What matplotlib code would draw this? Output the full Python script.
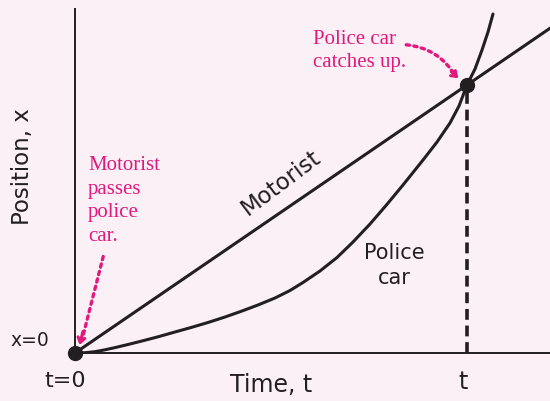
import matplotlib
matplotlib.use("Agg")
import matplotlib.pyplot as plt

# ---- data (t normalised so that catch-up happens at t=1, x=1) ----
motorist_t = [0.0, 1.212]
motorist_x = [0.0, 1.212]

police_t = [0.0, 0.0255, 0.0510, 0.0765, 0.1020, 0.1352, 0.1709, 0.2117,
            0.2551, 0.2934, 0.3393, 0.3827, 0.4260, 0.4668, 0.5102, 0.5485,
            0.5816, 0.6250, 0.6684, 0.7092, 0.7526, 0.7934, 0.8367, 0.8878,
            0.9235, 0.9566, 0.9796, 1.0, 1.0204, 1.0383, 1.0536, 1.0663]
police_x = [0.0, 0.0011, 0.0049, 0.0119, 0.0201, 0.0317, 0.0448, 0.0604,
            0.0784, 0.0940, 0.1138, 0.1343, 0.1567, 0.1791, 0.2052, 0.2332,
            0.2631, 0.3060, 0.3563, 0.4142, 0.4813, 0.5504, 0.6269, 0.7201,
            0.7873, 0.8582, 0.9216, 1.0, 1.0597, 1.1306, 1.1978, 1.2649]

catch_t, catch_x = 1.0, 1.0

bg = "#fbf0f6"
ink = "#231f20"
pink = "#e0197d"

fig = plt.figure(figsize=(5.5, 4.02), dpi=100, facecolor=bg)
W, H = 550, 402
ox, oy = 75, 354
ax = fig.add_axes([ox / W, (H - oy) / H, (W - ox) / W, oy / H])
ax.set_facecolor(bg)
ax.set_xlim(0, (W - ox) / 392)
ax.set_ylim(0, oy / 268)
for s in ["top", "right"]:
    ax.spines[s].set_visible(False)
ax.spines["left"].set_bounds(0, (oy - 10) / 268)
for s in ["left", "bottom"]:
    ax.spines[s].set_color(ink)
    ax.spines[s].set_linewidth(1.4)
ax.set_xticks([])
ax.set_yticks([])

ax.plot(motorist_t, motorist_x, color=ink, lw=2.2, solid_capstyle="round")
ax.plot(police_t, police_x, color=ink, lw=2.2, solid_capstyle="round",
        solid_joinstyle="round")
ax.plot([catch_t, catch_t], [0, catch_x], color=ink, lw=2.6,
        linestyle=(0, (3, 1.6)))
ax.plot([0, catch_t], [0, catch_x], "o", color=ink, ms=10, clip_on=False, zorder=5)

hand = dict(family="DejaVu Sans", color=ink)
ax.text(-0.115, 0.05, "x=0", fontsize=13.5, ha="center", va="center", **hand)
ax.text(-0.025, -0.10, "t=0", fontsize=16, ha="center", va="center",
        clip_on=False, **hand)
ax.text(0.5, -0.115, "Time, t", fontsize=17, ha="center", va="center", **hand)
ax.text(0.99, -0.105, "t", fontsize=17, ha="center", va="center", **hand)
ax.text(-0.135, 0.70, "Position, x", fontsize=16.5, ha="center", va="center",
        rotation=90, **hand)
ax.text(0.525, 0.64, "Motorist", fontsize=16.5, ha="center", va="center",
        rotation=37, **hand)
ax.text(0.815, 0.33, "Police\ncar", fontsize=15, ha="center", va="center",
        linespacing=1.3, **hand)

serif = dict(family="Liberation Serif", color=pink)
ax.text(0.033, 0.74, "Motorist\npasses\npolice\ncar.", fontsize=15,
        ha="left", va="top", linespacing=1.35, **serif)
ax.text(0.607, 1.21, "Police car\ncatches up.", fontsize=15,
        ha="left", va="top", linespacing=1.3, **serif)

dot = (0, (1.0, 1.3))
ax.annotate("", xy=(0.018, 0.05), xytext=(0.072, 0.36),
            arrowprops=dict(arrowstyle="-", color=pink, lw=2.4,
                            linestyle=dot, shrinkA=0, shrinkB=0))
ax.annotate("", xy=(0.012, 0.03), xytext=(0.02, 0.08),
            arrowprops=dict(arrowstyle="->,head_length=0.35,head_width=0.25",
                            color=pink, lw=2.2, shrinkA=0, shrinkB=0))
ax.annotate("", xy=(0.97, 1.035), xytext=(0.845, 1.15),
            arrowprops=dict(arrowstyle="-", color=pink, lw=2.4,
                            linestyle=dot, shrinkA=0, shrinkB=0,
                            connectionstyle="arc3,rad=-0.25"))
ax.annotate("", xy=(0.978, 1.025), xytext=(0.96, 1.05),
            arrowprops=dict(arrowstyle="->,head_length=0.35,head_width=0.25",
                            color=pink, lw=2.2, shrinkA=0, shrinkB=0))

fig.savefig("out.png", dpi=100, facecolor=bg)
